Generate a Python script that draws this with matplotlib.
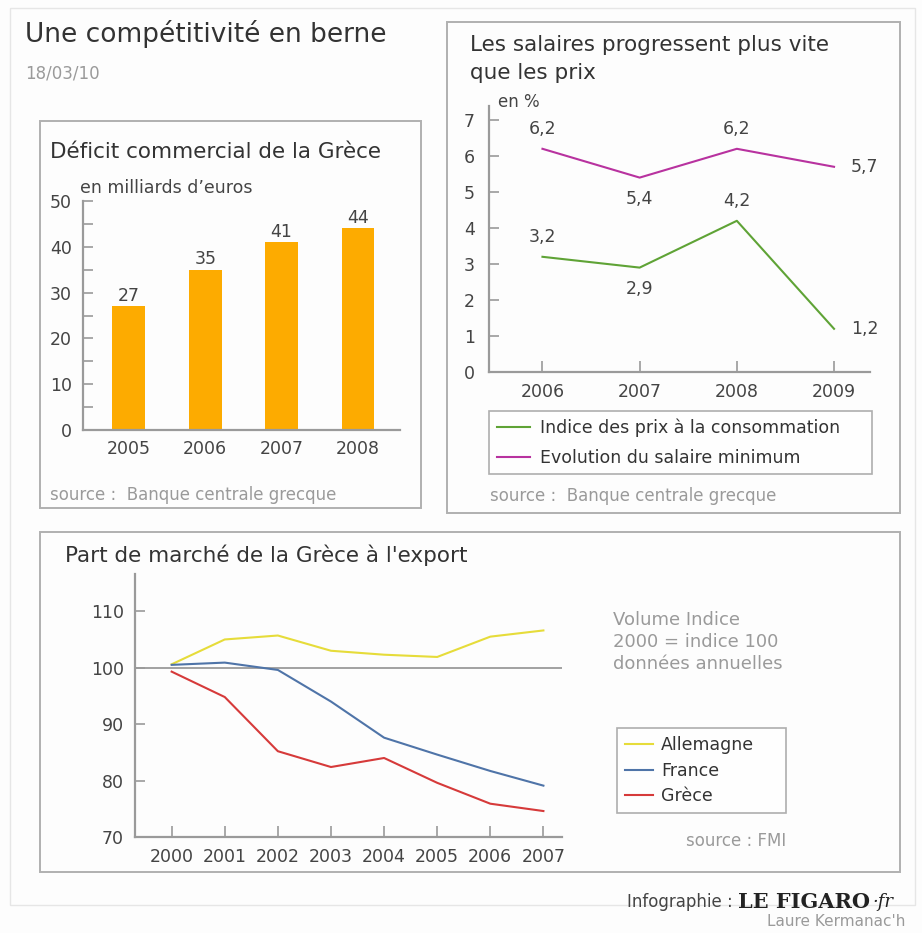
"""Recreation of the Figaro infographic 'Une compétitivité en berne' -> out.png."""

import matplotlib
matplotlib.use("Agg")
import matplotlib.pyplot as plt  # noqa: E402
from matplotlib.patches import Rectangle  # noqa: E402

W, H = 922, 933

# bar chart: trade deficit
DEF_YEARS = ["2005", "2006", "2007", "2008"]
DEF_VALUES = [27, 35, 41, 44]

# line chart: prices vs minimum wage
SAL_YEARS = ["2006", "2007", "2008", "2009"]
PRIX = [3.2, 2.9, 4.2, 1.2]
SALAIRE = [6.2, 5.4, 6.2, 5.7]
PRIX_POS = ["above", "below", "above", "right"]
SAL_POS = ["above", "below", "above", "right"]

# export market share, index 2000 = 100
EXP_YEARS = [2000, 2001, 2002, 2003, 2004, 2005, 2006, 2007]
ALLEMAGNE = [100.6, 105.0, 105.7, 103.0, 102.3, 101.9, 105.5, 106.6]
FRANCE = [100.5, 100.9, 99.6, 94.0, 87.6, 84.6, 81.7, 79.1]
GRECE = [99.3, 94.8, 85.2, 82.4, 84.0, 79.6, 75.9, 74.6]

GRAY = "#9a9a9a"
DARK = "#444444"
BOX = "#b0b0b0"
TICK_FS = 12.5


def fx(x):
    return x / W


def fy(y):
    return 1 - y / H


def axes_px(fig, x0, y0, x1, y1):
    return fig.add_axes([fx(x0), fy(y1), (x1 - x0) / W, (y1 - y0) / H])


def box(fig, x0, y0, x1, y1, lw=1.4, ec=BOX):
    fig.patches.append(Rectangle((fx(x0), fy(y1)), (x1 - x0) / W, (y1 - y0) / H,
                                 transform=fig.transFigure, fill=False,
                                 ec=ec, lw=lw))


def style(ax):
    for s in ("top", "right"):
        ax.spines[s].set_visible(False)
    for s in ("left", "bottom"):
        ax.spines[s].set_color(GRAY)
        ax.spines[s].set_linewidth(1.6)
    ax.set_facecolor("none")
    ax.tick_params(colors=GRAY, labelcolor=DARK, labelsize=TICK_FS, width=1.2)


def txt(fig, x, y, s, **kw):
    kw.setdefault("va", "center")
    return fig.text(fx(x), fy(y), s, **kw)


def main():
    plt.rcParams["font.family"] = ["DejaVu Sans"]
    fig = plt.figure(figsize=(W / 100, H / 100), dpi=100, facecolor="#fdfdfd")

    # frames
    box(fig, 10, 8, 915, 905, lw=1.0, ec="#e6e6e6")
    box(fig, 40, 121, 421, 508)
    box(fig, 447, 22, 900, 513)
    box(fig, 40, 532, 900, 872)

    txt(fig, 25, 34, "Une compétitivité en berne", fontsize=19, color="#333333")
    txt(fig, 25, 73, "18/03/10", fontsize=12, color=GRAY)

    # (a) deficit bars
    txt(fig, 50, 152, "Déficit commercial de la Grèce", fontsize=15.5,
        color="#333333")
    txt(fig, 80, 188, "en milliards d\u2019euros", fontsize=12.5, color=DARK)
    ax1 = axes_px(fig, 83, 201, 400, 430)
    style(ax1)
    xb = list(range(len(DEF_YEARS)))
    ax1.bar(xb, DEF_VALUES, 0.43, color="#fdab00")
    for xi, v in zip(xb, DEF_VALUES):
        ax1.text(xi, v + 0.3, str(v), ha="center", va="bottom", fontsize=TICK_FS,
                 color=DARK)
    ax1.set_xlim(-0.6, 3.55)
    ax1.set_ylim(0, 50)
    ax1.set_xticks(xb)
    ax1.set_xticklabels(DEF_YEARS)
    ax1.tick_params(axis="x", length=0, pad=7)
    ax1.set_yticks(range(0, 51, 10))
    ax1.set_yticks(range(5, 50, 10), minor=True)
    ax1.tick_params(axis="y", which="both", direction="in", length=7, pad=8,
                    color=GRAY, width=1.2)
    txt(fig, 50, 495, "source :  Banque centrale grecque", fontsize=12,
        color=GRAY)

    # (b) prices vs wages
    txt(fig, 470, 45, "Les salaires progressent plus vite", fontsize=15.5,
        color="#333333")
    txt(fig, 470, 73, "que les prix", fontsize=15.5, color="#333333")
    txt(fig, 498, 102, "en %", fontsize=12, color=DARK)
    ax2 = axes_px(fig, 489, 105.6, 870, 372)
    style(ax2)
    xs = list(range(len(SAL_YEARS)))
    lp, = ax2.plot(xs, PRIX, color="#5fa336", lw=1.5,
                   label="Indice des prix à la consommation")
    ls, = ax2.plot(xs, SALAIRE, color="#b8329f", lw=1.5,
                   label="Evolution du salaire minimum")
    offs = {"above": (0, 8, "center", "bottom"),
            "below": (0, -9, "center", "top"),
            "right": (12, 0, "left", "center")}
    for series, pos in ((PRIX, PRIX_POS), (SALAIRE, SAL_POS)):
        for xi, v, p in zip(xs, series, pos):
            dx, dy, ha, va = offs[p]
            ax2.annotate(f"{v:.1f}".replace(".", ","), (xi, v),
                         xytext=(dx, dy), textcoords="offset points",
                         ha=ha, va=va, fontsize=TICK_FS, color=DARK)
    ax2.set_xlim(-0.55, 3.37)
    ax2.set_ylim(0, 7.4)
    ax2.set_xticks(xs)
    ax2.set_xticklabels(SAL_YEARS)
    ax2.set_yticks(range(0, 8))
    ax2.tick_params(axis="x", direction="in", length=8, pad=8)
    ax2.tick_params(axis="y", direction="in", length=7, pad=10)
    leg = fig.legend(handles=[lp, ls], loc="upper left",
                     bbox_to_anchor=(fx(489), fy(478), (872 - 489) / W,
                                     (478 - 411) / H),
                     mode="expand", fontsize=12.5, frameon=True, fancybox=False,
                     edgecolor=GRAY, handlelength=1.9, handletextpad=0.6,
                     borderpad=0.45, labelspacing=0.65, borderaxespad=0,
                     labelcolor="#333333")
    leg.get_frame().set_linewidth(1.2)
    txt(fig, 490, 496, "source :  Banque centrale grecque", fontsize=12,
        color=GRAY)

    # (c) export market share
    txt(fig, 65, 555, "Part de marché de la Grèce à l'export", fontsize=15.5,
        color="#333333")
    ax3 = axes_px(fig, 135, 574, 562, 837)
    style(ax3)
    ax3.axhline(100, color=GRAY, lw=1.3)
    la, = ax3.plot(EXP_YEARS, ALLEMAGNE, color="#e6dc3a", lw=1.5, label="Allemagne")
    lf, = ax3.plot(EXP_YEARS, FRANCE, color="#4f74a8", lw=1.5, label="France")
    lg, = ax3.plot(EXP_YEARS, GRECE, color="#d63a3a", lw=1.5, label="Grèce")
    ax3.set_xlim(1999.31, 2007.35)
    ax3.set_ylim(70, 116.6)
    ax3.set_xticks(EXP_YEARS)
    ax3.set_yticks(range(70, 111, 10))
    ax3.tick_params(axis="x", direction="in", length=8, pad=8)
    ax3.tick_params(axis="y", direction="in", length=7, pad=8)
    for i, s in enumerate(["Volume Indice", "2000 = indice 100",
                           "données annuelles"]):
        txt(fig, 613, 620 + 22 * i, s, fontsize=13, color=GRAY)
    leg3 = fig.legend(handles=[la, lf, lg], loc="upper left",
                      bbox_to_anchor=(fx(617), fy(820), (786 - 617) / W,
                                      (820 - 728) / H),
                      mode="expand", fontsize=12.5, frameon=True, fancybox=False,
                      edgecolor=GRAY, handlelength=1.6, handletextpad=0.5,
                      borderpad=0.45, labelspacing=0.45, borderaxespad=0,
                      labelcolor="#333333")
    leg3.get_frame().set_linewidth(1.2)
    txt(fig, 786, 841, "source : FMI", fontsize=12, color=GRAY, ha="right")

    # footer
    txt(fig, 733, 902, "Infographie :", fontsize=12, color=DARK, ha="right",
        family=["Liberation Sans Narrow", "DejaVu Sans"])
    fig_t = txt(fig, 738, 902, "LE FIGARO", fontsize=15, color="#222222",
                fontweight="bold", family="DejaVu Serif")
    fig.canvas.draw()
    bb = fig_t.get_window_extent()
    fig.text(bb.x1 / W + 2 / W, fy(902), "\u00b7fr", fontsize=13, color="#222222",
             style="italic", family="DejaVu Serif", va="center")
    txt(fig, 905, 921, "Laure Kermanac'h", fontsize=11, color=GRAY, ha="right")

    fig.savefig("out.png", dpi=100, facecolor=fig.get_facecolor())


if __name__ == "__main__":
    main()
